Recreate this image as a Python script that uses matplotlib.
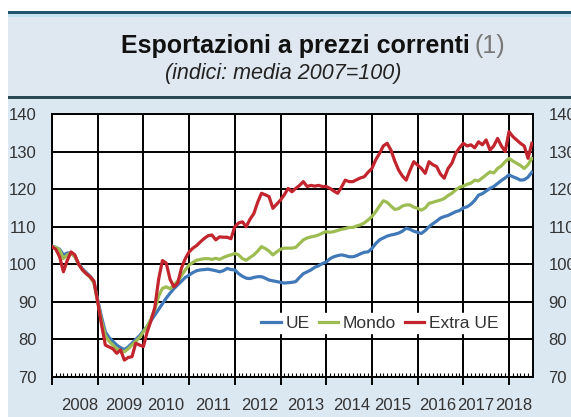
import numpy as np
import matplotlib
matplotlib.use("Agg")
import matplotlib.pyplot as plt
from matplotlib.patches import Rectangle

plt.rcParams["font.family"] = ["Liberation Sans", "DejaVu Sans"]

# ---------------------------------------------------------------
# Dati mensili (gen 2008 - lug 2018), indici media 2007=100
# ---------------------------------------------------------------
ue = [
    104.8, 104.5, 104.0, 102.5, 103.0, 103.0, 102.0, 100.2, 98.8, 97.8, 96.8, 95.5,
    90.5, 86.0, 82.0, 80.5, 79.5, 78.5, 77.8, 77.3, 78.0, 79.0, 80.0, 81.0,
    82.3, 83.5, 85.0, 86.5, 88.0, 89.5, 91.0, 92.3, 93.5, 94.5, 95.5, 96.5,
    97.1, 97.8, 98.3, 98.5, 98.6, 98.7, 98.5, 98.3, 98.0, 98.3, 98.9, 98.6,
    98.5, 97.5, 96.8, 96.3, 96.2, 96.5, 96.7, 96.7, 96.3, 95.8, 95.6, 95.4,
    95.2, 95.0, 95.1, 95.2, 95.4, 96.5, 97.5, 98.0, 98.5, 99.2, 99.6, 100.2,
    100.6, 101.5, 102.0, 102.3, 102.5, 102.3, 102.0, 102.0, 102.3, 102.8, 103.2, 103.3,
    104.2, 105.5, 106.5, 107.0, 107.5, 107.8, 108.0, 108.3, 108.8, 109.6, 109.3, 108.8,
    108.5, 108.2, 109.0, 110.0, 110.8, 111.5, 112.3, 112.7, 113.0, 113.5, 114.0, 114.3,
    115.0, 115.3, 116.0, 117.0, 118.4, 118.8, 119.5, 120.2, 120.7, 121.5, 122.3, 123.0,
    123.8, 123.3, 122.9, 122.4, 122.5, 123.2, 124.5,
]
mondo = [
    104.7, 104.5, 103.8, 101.5, 102.5, 103.0, 102.0, 100.0, 98.5, 97.5, 96.5, 95.0,
    90.0, 85.0, 81.0, 79.5, 78.5, 77.5, 77.0, 76.7, 77.5, 78.5, 79.5, 80.5,
    82.0, 83.5, 85.5, 88.0, 91.5, 93.6, 94.0, 93.5, 94.5, 95.5, 97.0, 98.5,
    99.8, 100.5, 101.1, 101.3, 101.5, 101.5, 101.3, 101.6, 101.3, 101.8, 102.2, 102.5,
    102.9, 102.5, 101.5, 101.1, 101.8, 102.5, 103.5, 104.7, 104.2, 103.5, 102.5, 103.3,
    104.0, 104.3, 104.3, 104.3, 104.5, 105.5, 106.5, 107.0, 107.3, 107.5, 107.8, 108.3,
    108.7, 108.5, 108.7, 109.0, 109.3, 109.5, 109.8, 109.8, 110.2, 110.5, 111.0, 111.8,
    112.7, 114.0, 115.5, 116.9, 116.5, 115.5, 114.6, 114.8, 115.5, 115.8, 115.8, 115.2,
    114.9, 114.4, 115.0, 116.2, 116.5, 116.8, 117.1, 117.5, 118.3, 118.9, 119.8, 120.5,
    120.8, 121.3, 121.6, 122.4, 122.2, 123.0, 123.8, 124.6, 124.3, 125.5, 126.2, 127.3,
    128.2, 127.5, 126.9, 126.3, 125.5, 126.5, 128.2,
]
extra_ue = [
    104.7, 104.0, 102.0, 98.0, 101.0, 103.3, 102.5, 100.0, 98.5, 97.5, 96.7, 95.5,
    90.0, 84.0, 78.5, 78.0, 77.5, 76.3, 77.2, 74.5, 75.2, 75.4, 79.0, 78.5,
    78.1, 82.0, 85.0, 88.5, 96.0, 101.0, 100.3, 96.0, 94.0, 95.0, 99.0, 101.5,
    103.3, 104.3, 105.0, 106.0, 106.9, 107.6, 107.8, 106.5, 107.3, 107.2, 107.2, 106.8,
    110.0, 111.0, 111.3, 110.0, 112.0, 113.5, 116.5, 118.9, 118.5, 118.0, 114.9, 116.0,
    117.1, 118.5, 120.2, 119.3, 120.2, 121.0, 122.0, 120.7, 121.0, 120.8, 121.0, 120.7,
    120.7, 120.2, 119.5, 118.9, 120.5, 122.4, 122.0, 122.0, 122.5, 123.0, 123.3, 124.5,
    125.5, 127.8, 129.5, 131.5, 132.2, 130.4, 127.5, 125.1, 123.5, 122.4, 125.0, 127.3,
    126.4, 125.5, 124.2, 127.3, 126.5, 126.0, 124.0, 122.9, 125.5, 126.9, 129.5, 131.0,
    132.2, 131.5, 131.8, 131.0, 132.6, 131.8, 133.1, 130.4, 131.5, 133.5, 131.5, 130.0,
    135.3, 134.0, 133.1, 132.2, 131.5, 128.2, 132.2,
]

anni = list(range(2008, 2019))
# posizione delle etichette degli anni (come nel grafico originale)
pos_etichette = [2008.61, 2009.58, 2010.49, 2011.52, 2012.55, 2013.56,
                 2014.56, 2015.46, 2016.45, 2017.28, 2018.11]
yticks = [70, 80, 90, 100, 110, 120, 130, 140]

t = 2008 + np.arange(len(ue)) / 12

# ---------------------------------------------------------------
# Figura e riquadro di intestazione
# ---------------------------------------------------------------
W, H = 571, 417
fig = plt.figure(figsize=(W / 100, H / 100), dpi=100)
fig.patch.set_facecolor("white")


def box(x0, y0, x1, y1, color):
    # coordinate in pixel, origine in alto a sinistra
    fig.add_artist(Rectangle((x0 / W, 1 - y1 / H), (x1 - x0) / W, (y1 - y0) / H,
                             transform=fig.transFigure, facecolor=color,
                             edgecolor="none", zorder=-5))


box(8, 12, W, 97, "#dfe8f0")
box(8, 11, W, 13.5, "#22566c")
box(8, 13.5, W, 17, "#c4e3f1")
box(8, 96, W, 98.5, "#2b4855")
box(8, 98.5, W, H, "#dbe7f1")

fig.text(470 / W, 1 - 46 / H, "Esportazioni a prezzi correnti", ha="right",
         va="center", fontsize=18, fontweight="bold", color="#111111")
fig.text(474 / W, 1 - 46 / H, "(1)", ha="left", va="center", fontsize=18,
         color="#777777")
fig.text(283 / W, 1 - 74 / H, "(indici: media 2007=100)", ha="center",
         va="center", fontsize=15.5, style="italic", color="#222222")

# ---------------------------------------------------------------
# Grafico
# ---------------------------------------------------------------
ax = fig.add_axes([52 / W, 40 / H, 481 / W, 263 / H])
ax.set_facecolor("white")

ax.plot(t, ue, color="#4178b8", lw=2.3, label="UE", zorder=3)
ax.plot(t, mondo, color="#9dbd52", lw=2.3, label="Mondo", zorder=3)
ax.plot(t, extra_ue, color="#c2252d", lw=2.3, label="Extra UE", zorder=4)

ax.set_xlim(2008, 2008 + 481 / 45.7)
ax.set_ylim(70, 140)
ax.set_yticks(yticks)
ax.set_xticks(anni)
ax.set_xticks(np.arange(2008, 2018.55, 1 / 12), minor=True)
ax.grid(which="major", color="black", linewidth=1.4)
ax.set_axisbelow(True)

for s in ax.spines.values():
    s.set_color("black")
    s.set_linewidth(1.4)

ax.tick_params(axis="x", which="major", direction="out", length=6, width=1.4,
               labelbottom=False)
ax.tick_params(axis="x", which="minor", direction="in", length=3, width=0.8)
ax.tick_params(axis="y", length=0, labelleft=True, labelright=True, pad=11,
               labelsize=12, labelcolor="#333333")

sec = ax.secondary_xaxis("bottom")
sec.set_xticks(pos_etichette, labels=[str(a) for a in anni])
sec.tick_params(length=0, pad=15, labelsize=12, labelcolor="#333333")
sec.spines["bottom"].set_visible(False)

leg = ax.legend(loc="center", bbox_to_anchor=((380 - 52) / 481, (377 - 323) / 263),
                ncol=3, frameon=True, facecolor="white", edgecolor="white",
                framealpha=1, fancybox=False, handlelength=1.1, handletextpad=0.3,
                columnspacing=0.5, borderpad=0.15, fontsize=12.5)
for txt in leg.get_texts():
    txt.set_color("#333333")

plt.savefig("out.png", dpi=100)
